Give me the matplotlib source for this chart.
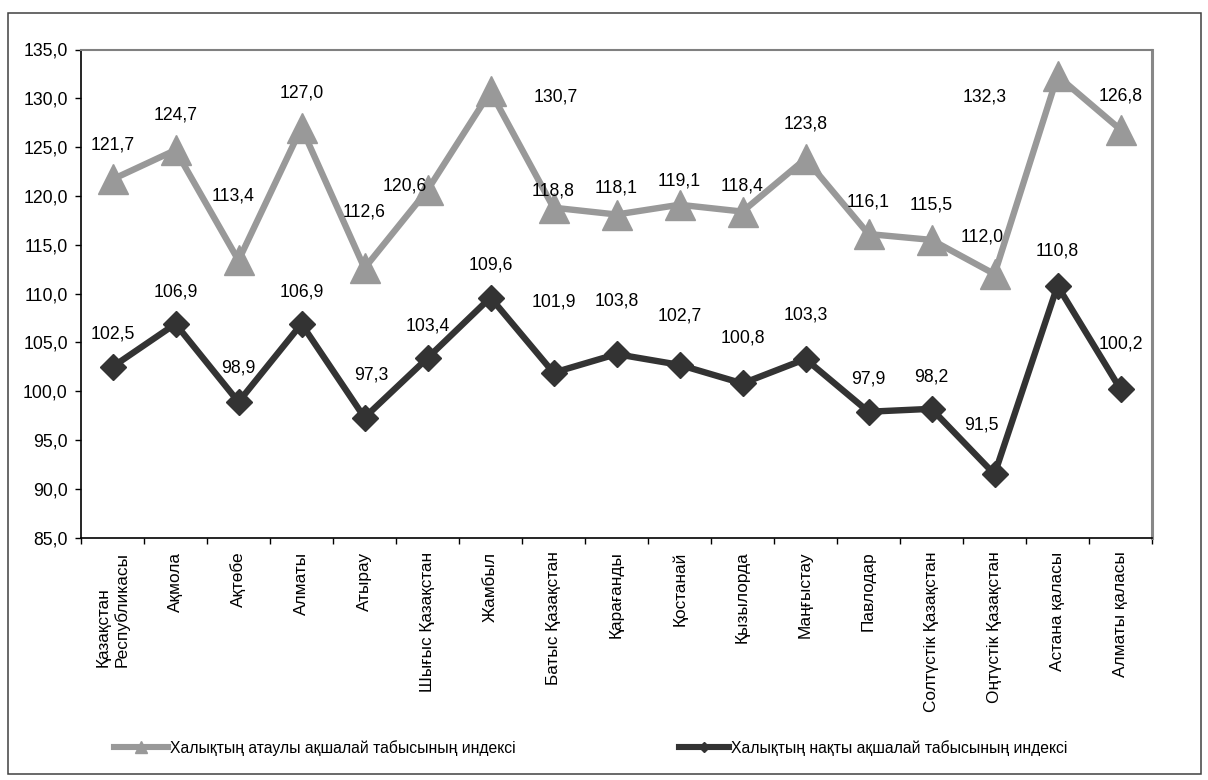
import matplotlib
matplotlib.use("Agg")
import matplotlib.pyplot as plt
from matplotlib.lines import Line2D
from matplotlib.patches import Rectangle
import numpy as np

plt.rcParams['font.family'] = ['Liberation Sans', 'DejaVu Sans']

categories = ["Қазақстан\nРеспубликасы", "Ақмола", "Ақтөбе", "Алматы", "Атырау",
              "Шығыс Қазақстан", "Жамбыл", "Батыс Қазақстан", "Қарағанды", "Қостанай",
              "Қызылорда", "Маңғыстау", "Павлодар", "Солтүстік Қазақстан",
              "Оңтүстік Қазақстан", "Астана қаласы", "Алматы қаласы"]
nominal = [121.7, 124.7, 113.4, 127.0, 112.6, 120.6, 130.7, 118.8, 118.1, 119.1,
           118.4, 123.8, 116.1, 115.5, 112.0, 132.3, 126.8]
real = [102.5, 106.9, 98.9, 106.9, 97.3, 103.4, 109.6, 101.9, 103.8, 102.7,
        100.8, 103.3, 97.9, 98.2, 91.5, 110.8, 100.2]
series_names = ["Халықтың атаулы ақшалай табысының индексі",
                "Халықтың нақты ақшалай табысының индексі"]
yticks = [85, 90, 95, 100, 105, 110, 115, 120, 125, 130, 135]

# label offsets in pixels (dx, dy up)
off_nom = [(0, 34), (0, 35), (-5, 64), (0, 35), (0, 56), (-23, 4), (65, -6), (0, 17),
           (0, 27), (0, 24), (0, 26), (0, 35), (0, 32), (0, 35), (-12, 37), (-73, -21), (0, 34)]
off_real = [(0, 33), (0, 32), (0, 34), (0, 32), (7, 43), (0, 32), (0, 33), (0, 71),
            (0, 53), (0, 49), (0, 45), (0, 44), (0, 33), (0, 32), (-13, 49), (0, 35), (0, 45)]

W, H = 1208, 780
fig = plt.figure(figsize=(W / 100, H / 100), dpi=100)
ax = fig.add_axes([81 / W, 1 - 537.7 / H, (1152 - 81) / W, (537.7 - 49.5) / H])

x = np.arange(len(categories))
c_nom = '#999999'
c_real = '#333333'
ax.plot(x, nominal, color=c_nom, lw=4.6, marker='^', markersize=21, zorder=3)
ax.plot(x, real, color=c_real, lw=4.6, marker='D', markersize=13.5, zorder=3)

fs = 12.7
for i, v in enumerate(nominal):
    dx, dy = off_nom[i]
    ax.annotate(f"{v:.1f}".replace('.', ','), (x[i], v),
                xytext=(dx * 0.72, dy * 0.72), textcoords='offset points',
                ha='center', va='center', fontsize=fs, color='black', zorder=4)
for i, v in enumerate(real):
    dx, dy = off_real[i]
    ax.annotate(f"{v:.1f}".replace('.', ','), (x[i], v),
                xytext=(dx * 0.72, dy * 0.72), textcoords='offset points',
                ha='center', va='center', fontsize=fs, color='black', zorder=4)

ax.set_xlim(-0.5, len(categories) - 0.5)
ax.set_ylim(85, 135)
ax.set_yticks(yticks)
ax.set_yticklabels([f"{t:.1f}".replace('.', ',') for t in yticks], fontsize=fs)
ax.set_xticks(x)
ax.set_xticklabels(categories, rotation=90, fontsize=12.4, va='top', ha='center')
for lbl in ax.get_xticklabels():
    lbl.set_multialignment('left')
ax.set_xticks(np.arange(-0.5, len(categories), 1), minor=True)
ax.tick_params(axis='x', which='major', length=0, pad=10)
ax.tick_params(axis='x', which='minor', length=4.5, width=1, direction='out', color='black')
ax.tick_params(axis='y', length=4.5, width=1, direction='out', pad=5, color='black')

ax.spines['left'].set_color('black')
ax.spines['left'].set_linewidth(1.2)
ax.spines['bottom'].set_color('black')
ax.spines['bottom'].set_linewidth(1.2)
ax.spines['top'].set_color('#808080')
ax.spines['top'].set_linewidth(1.5)
ax.spines['right'].set_color('#888888')
ax.spines['right'].set_linewidth(2.2)

# legend
lfs = 11.3
h1 = Line2D([], [], color=c_nom, lw=4.4, marker='^', markersize=8)
h2 = Line2D([], [], color=c_real, lw=4.4, marker='D', markersize=5.5)
fig.legend(handles=[h1], labels=[series_names[0]], loc='center left',
           bbox_to_anchor=(114 / W, 1 - 748 / H), frameon=False, borderpad=0,
           borderaxespad=0, handlelength=54 / (lfs * 100 / 72), handletextpad=0.12,
           fontsize=lfs)
fig.legend(handles=[h2], labels=[series_names[1]], loc='center left',
           bbox_to_anchor=(679 / W, 1 - 748 / H), frameon=False, borderpad=0,
           borderaxespad=0, handlelength=50 / (lfs * 100 / 72), handletextpad=0.12,
           fontsize=lfs)

# outer border
fig.patches.append(Rectangle((8 / W, 1 - 774 / H), (1201 - 8) / W, (774 - 13) / H,
                             transform=fig.transFigure, fill=False,
                             edgecolor='#404040', lw=1.1))

fig.savefig('out.png', dpi=100)
